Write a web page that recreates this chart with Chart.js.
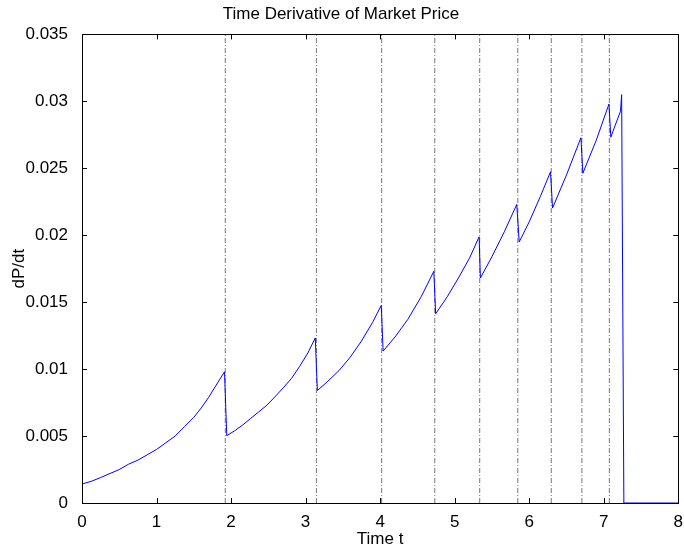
<!DOCTYPE html>
<html>
<head>
<meta charset="utf-8">
<script src="https://cdn.jsdelivr.net/npm/chart.js@4/dist/chart.umd.min.js"></script>
<style>
    html, body { margin: 0; padding: 0; background: #fff; }
    #wrap { width: 684px; height: 548px; }
</style>
</head>
<body>
<div id="wrap"><canvas id="chart" width="684" height="548"></canvas></div>
<script>
// time samples and dP/dt
const timeT = [
    0, 0.125, 0.25, 0.375, 0.5, 0.625, 0.75, 0.875, 1.0, 1.125, 1.25, 1.375, 1.5, 1.6, 1.7, 1.8, 1.912,
    1.942, 2.05, 2.15, 2.26, 2.37, 2.48, 2.6, 2.7, 2.81, 2.92, 3.03, 3.13,
    3.158, 3.3, 3.45, 3.6, 3.75, 3.9, 4.015,
    4.04, 4.2, 4.37, 4.55, 4.72,
    4.745, 4.9, 5.05, 5.2, 5.328,
    5.345, 5.5, 5.67, 5.833,
    5.866, 6.0, 6.15, 6.286,
    6.313, 6.5, 6.694,
    6.72, 6.9, 7.07,
    7.095, 7.16, 7.225, 7.24, 7.27, 8
];
const dPdt = [
    0.00142, 0.00162, 0.0019, 0.0022, 0.0025, 0.0029, 0.0032, 0.0036, 0.0040, 0.0045, 0.0050, 0.0057, 0.0064, 0.0071, 0.0079, 0.0088, 0.0098,
    0.00503, 0.0054, 0.0058, 0.0063, 0.0068, 0.0073, 0.0080, 0.0086, 0.0093, 0.0102, 0.0112, 0.01233,
    0.0084, 0.0091, 0.0099, 0.0109, 0.0121, 0.0135, 0.01476,
    0.01135, 0.0124, 0.0137, 0.0154, 0.0173,
    0.01413, 0.0154, 0.0168, 0.0183, 0.01988,
    0.0168, 0.0184, 0.0203, 0.0223,
    0.0195, 0.0210, 0.0229, 0.02474,
    0.02203, 0.0245, 0.02728,
    0.02463, 0.0271, 0.0298,
    0.02732, 0.0283, 0.02926, 0.0305, 0, 0
];
// dashed vertical markers
const jumpTimes = [1.922, 3.145, 4.021, 4.733, 5.336, 5.847, 6.296, 6.707, 7.075];

const xTicks = [0, 1, 2, 3, 4, 5, 6, 7, 8];
const yTicks = [0, 0.005, 0.01, 0.015, 0.02, 0.025, 0.03, 0.035];

const FONT = "'Liberation Sans', Arial, sans-serif";
const FSIZE = 17;

const datasets = [{
    data: timeT.map((t, i) => ({ x: t, y: dPdt[i] })),
    borderColor: '#0000ff',
    borderWidth: 1,
    pointRadius: 0,
    tension: 0
}];
jumpTimes.forEach(t => {
    datasets.push({
        data: [{ x: t, y: yTicks[0] }, { x: t, y: yTicks[yTicks.length - 1] }],
        borderColor: '#777777',
        borderWidth: 1,
        borderDash: [5, 2, 1, 2],
        pointRadius: 0
    });
});

// MATLAB style box with inward ticks on all sides
const boxPlugin = {
    id: 'box',
    afterDraw(chart) {
        const ctx = chart.ctx;
        const a = chart.chartArea;
        const xs = chart.scales.x, ys = chart.scales.y;
        const len = 5;
        ctx.save();
        ctx.strokeStyle = '#000';
        ctx.lineWidth = 1;
        ctx.beginPath();
        xTicks.forEach(v => {
            const px = Math.round(xs.getPixelForValue(v)) + 0.5;
            ctx.moveTo(px, a.bottom); ctx.lineTo(px, a.bottom - len);
            ctx.moveTo(px, a.top); ctx.lineTo(px, a.top + len);
        });
        yTicks.forEach(v => {
            const py = Math.round(ys.getPixelForValue(v)) + 0.5;
            ctx.moveTo(a.left, py); ctx.lineTo(a.left + len, py);
            ctx.moveTo(a.right, py); ctx.lineTo(a.right - len, py);
        });
        ctx.stroke();
        ctx.strokeRect(Math.round(a.left) + 0.5, Math.round(a.top) + 0.5,
            Math.round(a.right - a.left), Math.round(a.bottom - a.top));
        ctx.restore();
    }
};

new Chart(document.getElementById('chart'), {
    type: 'line',
    data: { datasets: datasets },
    options: {
        responsive: false,
        animation: false,
        layout: { padding: { left: 0, right: 2, top: 0, bottom: 0 } },
        plugins: {
            legend: { display: false },
            tooltip: { enabled: false },
            title: {
                display: true,
                text: 'Time Derivative of Market Price',
                color: '#000',
                font: { family: FONT, size: FSIZE, weight: 'normal' },
                padding: { top: 4, bottom: 10 }
            }
        },
        scales: {
            x: {
                type: 'linear',
                min: 0, max: 8,
                afterFit(s) { s.height = 45; },
                afterBuildTicks(s) { s.ticks = xTicks.map(v => ({ value: v })); },
                grid: { display: false },
                border: { display: false },
                ticks: { color: '#000', padding: 1, font: { family: FONT, size: FSIZE } },
                title: {
                    display: true, text: 'Time t', color: '#000',
                    font: { family: FONT, size: FSIZE, lineHeight: 1 }, padding: { top: 0, bottom: 0 }
                }
            },
            y: {
                type: 'linear',
                min: 0, max: 0.035,
                afterFit(s) { s.width = 82; },
                afterBuildTicks(s) { s.ticks = yTicks.map(v => ({ value: v })); },
                grid: { display: false },
                border: { display: false },
                ticks: {
                    color: '#000', padding: 6, font: { family: FONT, size: FSIZE },
                    callback: v => String(+v.toFixed(3))
                },
                title: {
                    display: true, text: 'dP/dt', color: '#000',
                    font: { family: FONT, size: FSIZE }, padding: { top: 9, bottom: 0 }
                }
            }
        }
    },
    plugins: [boxPlugin]
});
</script>
</body>
</html>
